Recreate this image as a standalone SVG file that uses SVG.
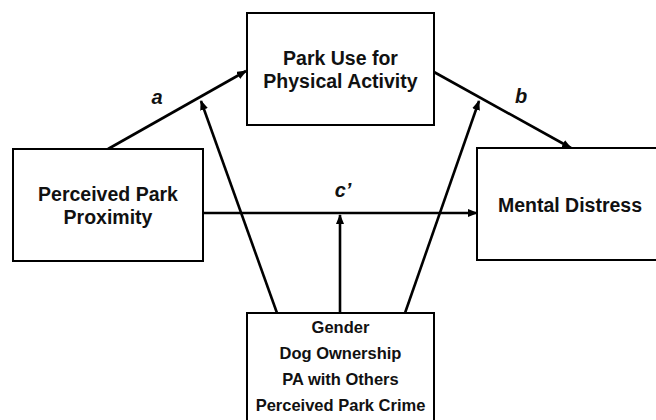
<svg xmlns="http://www.w3.org/2000/svg" width="656" height="420" viewBox="0 0 656 420">
<style>
.box{fill:#fff;stroke:#000;stroke-width:2}
.t{font-family:"Liberation Sans",Arial,sans-serif;font-weight:bold;font-size:19.5px;fill:#111;text-anchor:middle}
.s{font-size:16.5px}
.lbl{font-family:"Liberation Sans",Arial,sans-serif;font-weight:bold;font-style:italic;font-size:20px;fill:#111;text-anchor:middle}
.c{stroke:#000;stroke-width:2.6;fill:none;marker-end:url(#ah)}
</style>
<defs>
<marker id="ah" markerWidth="10" markerHeight="8" refX="9" refY="4" orient="auto" markerUnits="userSpaceOnUse">
<path d="M0,0 L10,4 L0,8 Z" fill="#000"/>
</marker>
</defs>
<rect width="656" height="420" fill="#fff"/>
<g id="connectors">
<line class="c" x1="108" y1="149" x2="246" y2="71"/>
<line class="c" x1="434" y1="72" x2="571" y2="148"/>
<line class="c" x1="203" y1="213" x2="477" y2="213"/>
<line class="c" x1="277" y1="313" x2="201" y2="101"/>
<line class="c" x1="405" y1="313" x2="479" y2="101"/>
<line class="c" x1="340" y1="313" x2="340" y2="215"/>
<text class="lbl" x="157" y="104">a</text>
<text class="lbl" x="521" y="103">b</text>
<text class="lbl" x="343" y="197">c’</text>
</g>
<g id="node-park-use">
<rect class="box" x="247" y="13" width="187" height="112"/>
<text class="t" x="340.5" y="65">Park Use for</text>
<text class="t" x="340.5" y="88">Physical Activity</text>
</g>
<g id="node-proximity">
<rect class="box" x="13" y="149" width="190" height="112"/>
<text class="t" x="108" y="201">Perceived Park</text>
<text class="t" x="108" y="224">Proximity</text>
</g>
<g id="node-distress">
<rect class="box" x="477" y="148" width="185" height="112"/>
<text class="t" x="570" y="212">Mental Distress</text>
</g>
<g id="node-moderators">
<rect class="box" x="247" y="313" width="187" height="112"/>
<text class="t s" x="340.5" y="333">Gender</text>
<text class="t s" x="340.5" y="359">Dog Ownership</text>
<text class="t s" x="340.5" y="385">PA with Others</text>
<text class="t s" x="340.5" y="411">Perceived Park Crime</text>
</g>
</svg>
